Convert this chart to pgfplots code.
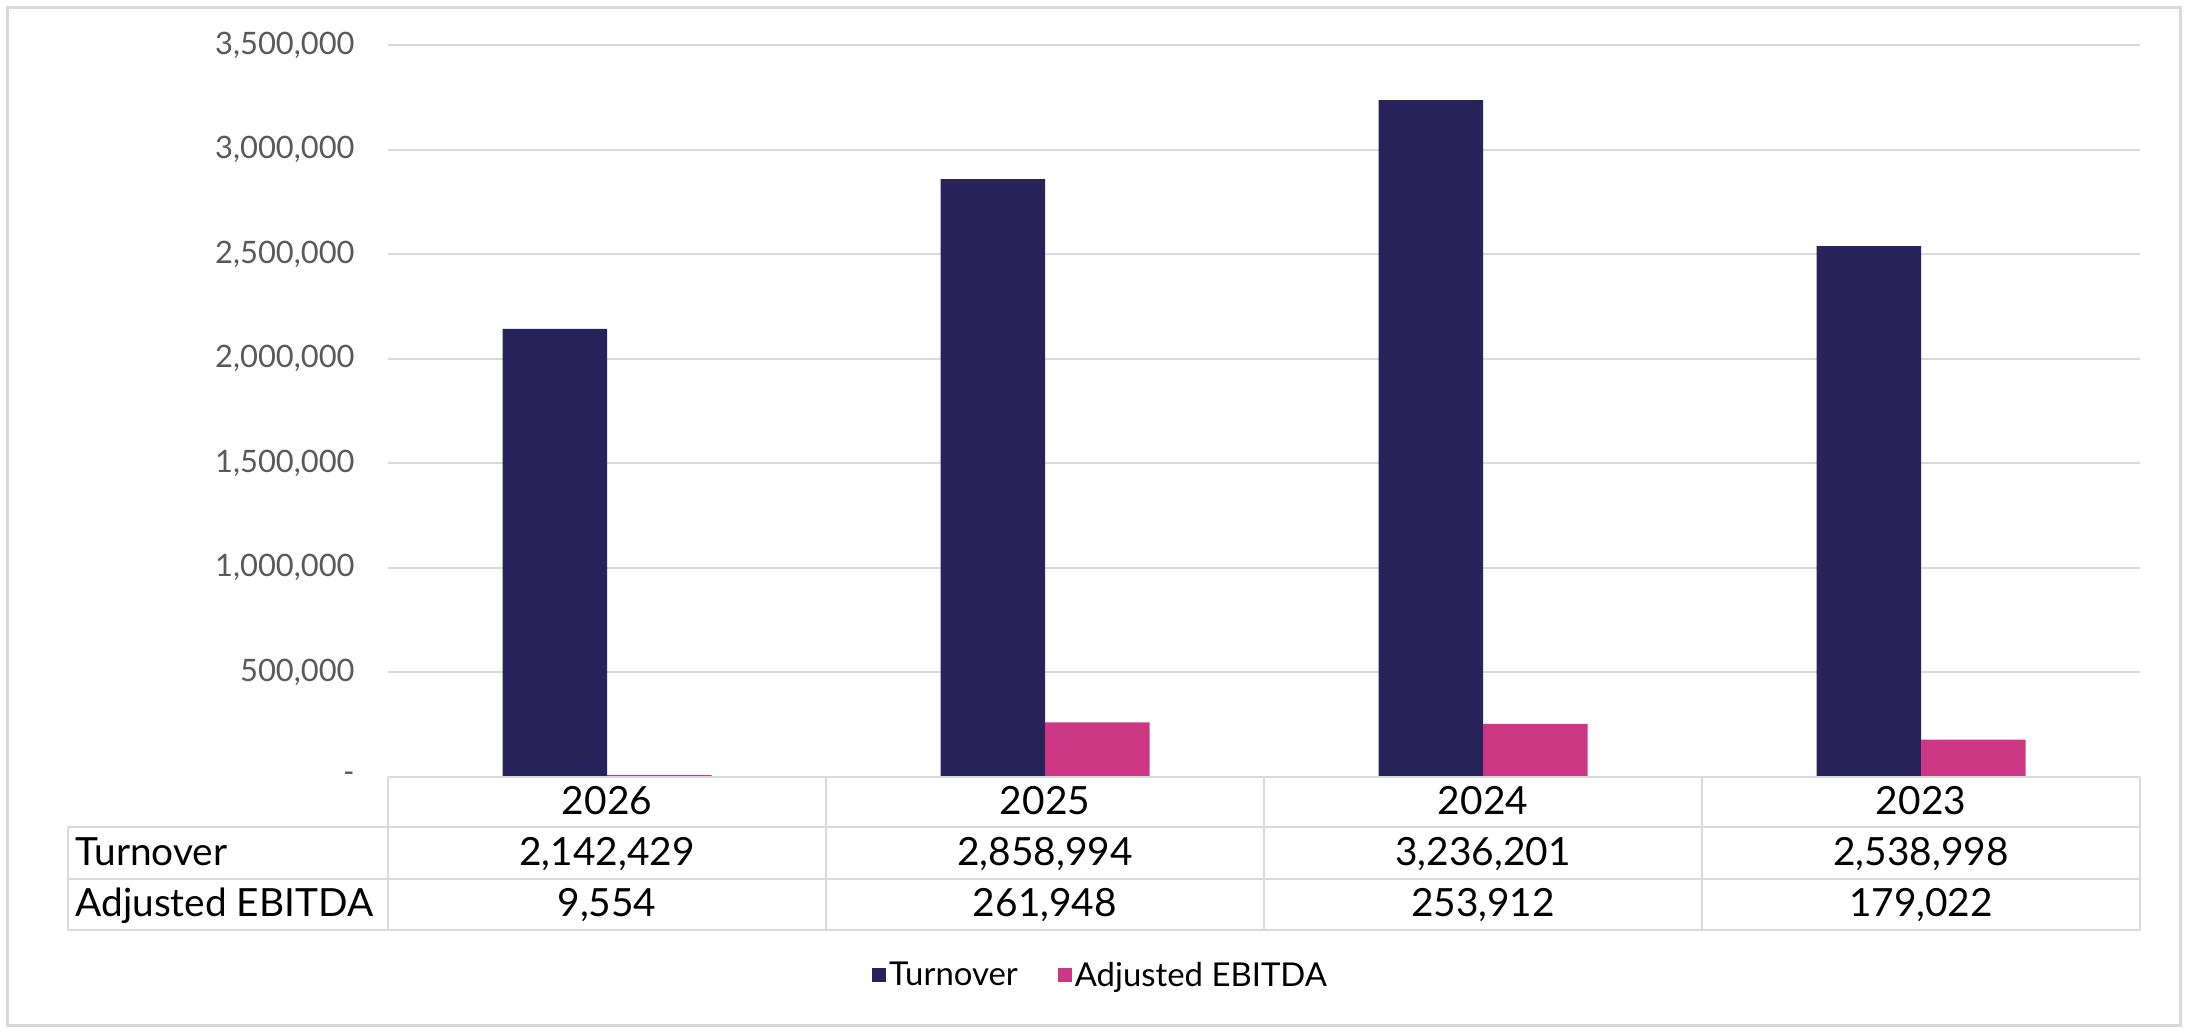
\documentclass[border=0pt]{standalone}
\usepackage{fontspec}
\setmainfont{Lato}
\usepackage{pgfplots}
\pgfplotsset{compat=1.18}
\definecolor{navy}{HTML}{29235C}
\definecolor{rose}{HTML}{CC3783}
\definecolor{gridgray}{HTML}{D9D9D9}
\definecolor{ticktxt}{HTML}{595959}
\newcommand{\tabfont}{\fontsize{19.5}{23}\selectfont}
\begin{document}
\begin{tikzpicture}
% frame, in image pixels (1px = 0.5bp), y downwards
\begin{scope}[x=0.5bp,y=-0.5bp]
  \useasboundingbox (0,0) rectangle (2189,1034);
  \draw[gridgray, line width=1.5bp] (7,7) rectangle (2180,1025);
\end{scope}

\begin{axis}[
    at={(194bp,-388.5bp)}, anchor=south west,
    scale only axis, width=876bp, height=366bp,
    xmin=-0.5, xmax=3.5, ymin=0, ymax=3500000,
    enlargelimits=false, clip=false,
    xtick=\empty, scaled y ticks=false,
    ytick={0,500000,1000000,1500000,2000000,2500000,3000000,3500000},
    yticklabels={-,{500,000},{1,000,000},{1,500,000},{2,000,000},{2,500,000},{3,000,000},{3,500,000}},
    yticklabel style={font=\fontsize{15.5}{18}\selectfont, text=ticktxt,
        inner sep=0pt, anchor=east, xshift=-16.5bp},
    major tick length=0pt,
    axis line style={draw=none},
    ymajorgrids, grid style={gridgray, line width=1bp},
    ybar=0pt, bar width=52.25bp,
    legend columns=2,
    legend style={at={(0.407,-0.271)}, anchor=center, draw=none, fill=none,
        font=\fontsize{16.5}{19}\selectfont,
        nodes={inner sep=1.5bp},
        /tikz/every even column/.append style={column sep=18.5bp}},
    legend image code/.code={\fill[#1] (0bp,-3.5bp) rectangle (7bp,3.5bp);},
]
\addplot[fill=navy, draw=none] coordinates {(0,2142429) (1,2858994) (2,3236201) (3,2538998)};
\addplot[fill=rose, draw=none] coordinates {(0,9554) (1,261948) (2,253912) (3,179022)};
\legend{Turnover, Adjusted EBITDA}
\end{axis}

% data table below the plot
\begin{scope}[x=0.5bp,y=-0.5bp]
  \begin{scope}[gridgray, line width=1.25bp]
    \draw (388,777) -- (2140,777);
    \draw (68,827) -- (2140,827);
    \draw (68,879) -- (2140,879);
    \draw (68,930) -- (2140,930);
    \draw (68,827) -- (68,930);
    \foreach \x in {388,826,1264,1702,2140} \draw (\x,777) -- (\x,930);
  \end{scope}
  \begin{scope}[every node/.style={font=\tabfont, inner sep=0pt, anchor=base}]
    \node at (607,814) {2026};
    \node at (1045,814) {2025};
    \node at (1483,814) {2024};
    \node at (1921,814) {2023};
    \node[anchor=base west] at (75,865) {Turnover};
    \node at (607,865) {2,142,429};
    \node at (1045,865) {2,858,994};
    \node at (1483,865) {3,236,201};
    \node at (1921,865) {2,538,998};
    \node[anchor=base west] at (75,916) {Adjusted EBITDA};
    \node at (607,916) {9,554};
    \node at (1045,916) {261,948};
    \node at (1483,916) {253,912};
    \node at (1921,916) {179,022};
  \end{scope}
\end{scope}
\end{tikzpicture}
\end{document}
